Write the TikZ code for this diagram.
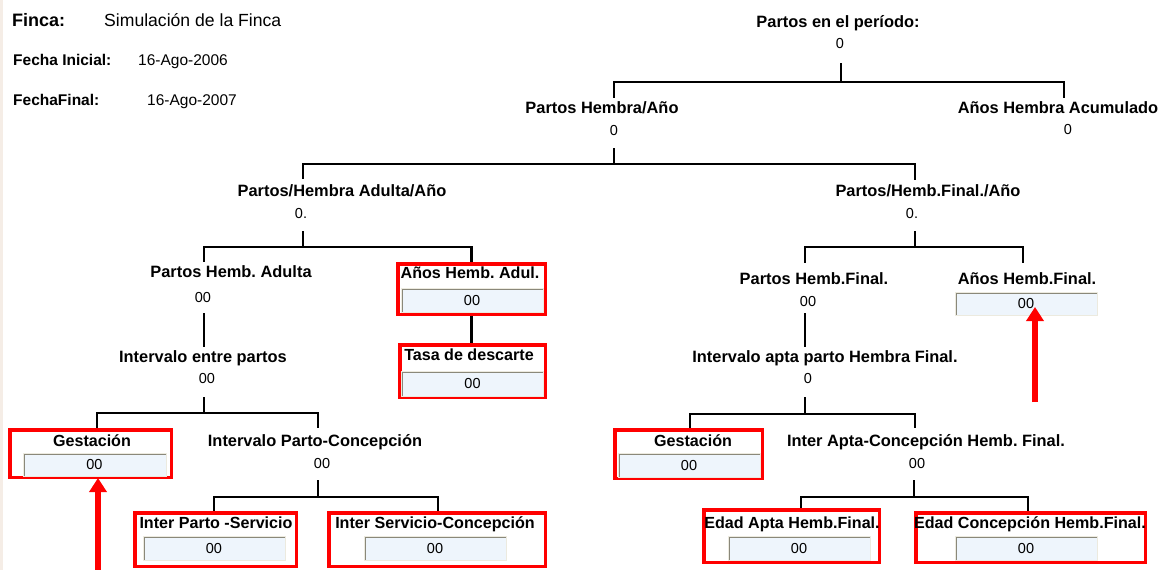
\documentclass[tikz,border=0pt]{standalone}
\usepackage{fontspec}
\setmainfont{Liberation Sans}
\usetikzlibrary{arrows.meta}
\frenchspacing

\definecolor{frame}{HTML}{FF0000}
\definecolor{fieldbg}{HTML}{EEF5FC}
\definecolor{fieldedge}{HTML}{8A887A}
\definecolor{fieldlt}{HTML}{ECEADF}
\definecolor{strip}{HTML}{F5EDE6}

\tikzset{
  lbl/.style={font=\fontsize{16.4}{19}\selectfont\bfseries, inner sep=0pt, text height=11.5pt, text depth=0pt},
  boxlbl/.style={lbl, font=\fontsize{16.1}{19}\selectfont\bfseries},
  val/.style={font=\fontsize{14.5}{17}\selectfont, inner sep=0pt, text height=10.5pt, text depth=0pt},
  link/.style={line width=2.5pt, black},
  redbox/.style={draw=frame, line width=3.5pt, inner sep=0pt},
  field/.style={fill=fieldbg, draw=fieldlt, line width=1pt, minimum width=142pt, minimum height=24pt,
    inner sep=0pt, font=\fontsize{14.5}{17}\selectfont, text height=10.5pt, text depth=0pt,
    path picture={\draw[fieldedge, line width=3pt] (path picture bounding box.south west)
      -- (path picture bounding box.north west) -- (path picture bounding box.north east);}},
  pointer/.style={draw=frame, line width=6pt, -{Triangle[width=17pt,length=14pt]}}
}

\begin{document}
\begin{tikzpicture}[x=1pt,y=-1pt]
    \useasboundingbox (0,0) rectangle (1163,570);
    \fill[white] (0,0) rectangle (1163,570);
    \fill[strip] (0,0) rectangle (3,570);
    % header
    \node[lbl, font=\fontsize{18}{21}\selectfont\bfseries, text height=13pt, anchor=west] (finca) at (12,20) {Finca:};
    \node[val, font=\fontsize{17.6}{20}\selectfont, text height=12pt, anchor=west] (finca-v) at (104,20) {Simulación de la Finca};
    \node[lbl, font=\fontsize{15.5}{18}\selectfont\bfseries, anchor=west] (fini) at (13,60) {Fecha Inicial:};
    \node[val, font=\fontsize{15.5}{18}\selectfont, anchor=west] (fini-v) at (138,60) {16-Ago-2006};
    \node[lbl, font=\fontsize{15.5}{18}\selectfont\bfseries, anchor=west] (ffin) at (13,100) {FechaFinal:};
    \node[val, font=\fontsize{15.5}{18}\selectfont, anchor=west] (ffin-v) at (147,100) {16-Ago-2007};

    % top level
    \node[lbl] (root) at (838,22) {Partos en el período:};
    \node[val] (root-v) at (840,43) {0};
    \node[lbl] (pha) at (602,108) {Partos Hembra/Año};
    \node[val] (pha-v) at (614,130) {0};
    \node[lbl] (ahc) at (1058,108) {Años Hembra Acumulado};
    \node[val] (ahc-v) at (1068,129) {0};
    \coordinate (root-o) at (841,63);
    \coordinate (root-b) at (841,82);
    \coordinate (pha-i) at (614,98);
    \coordinate (ahc-i) at (1064,98);
    \draw[link] (root-o) -- (root-b) -| (pha-i) (root-b) -| (ahc-i);

    % second level
    \node[lbl] (phaa) at (342,191) {Partos/Hembra Adulta/Año};
    \node[val] (phaa-v) at (301,213) {0.};
    \node[lbl] (phf) at (928,191) {Partos/Hemb.Final./Año};
    \node[val] (phf-v) at (912,213) {0.};
    \coordinate (pha-o) at (614,148);
    \coordinate (pha-b) at (614,164);
    \coordinate (phaa-i) at (303,179);
    \coordinate (phf-i) at (915,180);
    \draw[link] (pha-o) -- (pha-b) -| (phaa-i) (pha-b) -| (phf-i);

    % left branch
    \node[lbl] (pfa) at (231,272) {Partos Hemb. Adulta};
    \node[val] (pfa-v) at (203,297) {00};
    \node[redbox, minimum width=147.5pt, minimum height=50.5pt] (ahadul) at (471.5,289) {};
    \node[boxlbl] (ahadul-t) at (470,273) {Años Hemb. Adul.};
    \node[field] (ahadul-f) at (472,300) {00};
    \coordinate (phaa-o) at (303,231);
    \coordinate (phaa-b) at (303,247);
    \coordinate (pfa-i) at (204,262);
    \draw[link] (phaa-o) -- (phaa-b) -| (pfa-i) (phaa-b) -| (ahadul.north);

    \node[lbl] (iep) at (203,357) {Intervalo entre partos};
    \node[val] (iep-v) at (207,378) {00};
    \coordinate (pfa-o) at (204,313);
    \coordinate (iep-i) at (204,347);
    \draw[link] (pfa-o) -- (iep-i);

    \node[redbox, minimum width=145.5pt, minimum height=52.5pt] (tasa) at (472.5,371) {};
    \node[boxlbl] (tasa-t) at (469,355) {Tasa de descarte};
    \node[field, minimum height=25pt] (tasa-f) at (472.5,383.5) {00};
    \draw[link] (ahadul.south) -- (ahadul.south |- tasa.north);

    \node[redbox, minimum width=161.5pt, minimum height=47.5pt] (gestl) at (90.5,453.5) {};
    \node[boxlbl] (gestl-t) at (92,441) {Gestación};
    \node[field, minimum width=143pt, minimum height=23pt] (gestl-f) at (94.5,464.5) {00};
    \node[lbl] (ipc) at (315,441) {Intervalo Parto-Concepción};
    \node[val] (ipc-v) at (322,463) {00};
    \coordinate (iep-o) at (204,397);
    \coordinate (iep-b) at (204,413);
    \coordinate (gestl-i) at (97,428);
    \coordinate (ipc-i) at (318,428);
    \draw[link] (iep-o) -- (iep-b) -| (gestl-i) (iep-b) -| (ipc-i);

    \node[redbox, minimum width=161.5pt, minimum height=53.5pt] (ips) at (215.5,539.5) {};
    \node[boxlbl] (ips-t) at (216,523) {Inter Parto -Servicio};
    \node[field] (ips-f) at (214,548) {00};
    \node[redbox, minimum width=216.5pt, minimum height=53.5pt] (isc) at (437,539.5) {};
    \node[boxlbl] (isc-t) at (435,523) {Inter Servicio-Concepción};
    \node[field] (isc-f) at (435,548) {00};
    \coordinate (ipc-o) at (318,480);
    \coordinate (ipc-b) at (318,497);
    \coordinate (ips-i) at (214,511);
    \coordinate (isc-i) at (438,511);
    \draw[link] (ipc-o) -- (ipc-b) -| (ips-i) (ipc-b) -| (isc-i);

    % right branch
    \node[lbl] (pfhf) at (814,279) {Partos Hemb.Final.};
    \node[val] (pfhf-v) at (808,301) {00};
    \node[lbl] (ahf) at (1027,279) {Años Hemb.Final.};
    \node[field, minimum height=23pt] (ahf-f) at (1026,303.5) {00};
    \coordinate (phf-o) at (915,231);
    \coordinate (phf-b) at (915,247);
    \coordinate (pfhf-i) at (805,263);
    \coordinate (ahf-i) at (1023,263);
    \draw[link] (phf-o) -- (phf-b) -| (pfhf-i) (phf-b) -| (ahf-i);

    \node[lbl] (iaph) at (825,357) {Intervalo apta parto Hembra Final.};
    \node[val] (iaph-v) at (808,378) {0};
    \coordinate (pfhf-o) at (805,313);
    \coordinate (iaph-i) at (805,347);
    \draw[link] (pfhf-o) -- (iaph-i);

    \node[redbox, minimum width=147.5pt, minimum height=48.5pt] (gestr) at (688.5,454) {};
    \node[boxlbl] (gestr-t) at (693,441) {Gestación};
    \node[field] (gestr-f) at (689,465) {00};
    \node[lbl] (iach) at (926,441) {Inter Apta-Concepción Hemb. Final.};
    \node[val] (iach-v) at (917,463) {00};
    \coordinate (iaph-o) at (805,397);
    \coordinate (iaph-b) at (805,414);
    \coordinate (gestr-i) at (690,428);
    \coordinate (iach-i) at (915,428);
    \draw[link] (iaph-o) -- (iaph-b) -| (gestr-i) (iaph-b) -| (iach-i);

    \node[redbox, minimum width=175.5pt, minimum height=52.5pt] (eah) at (791.5,536) {};
    \node[boxlbl] (eah-t) at (792,523) {Edad Apta Hemb.Final.};
    \node[field] (eah-f) at (799,548) {00};
    \node[redbox, minimum width=229.5pt, minimum height=49.5pt] (ech) at (1030.5,537.5) {};
    \node[boxlbl] (ech-t) at (1030,523) {Edad Concepción Hemb.Final.};
    \node[field] (ech-f) at (1026,548) {00};
    \coordinate (iach-o) at (914,480);
    \coordinate (iach-b) at (914,497);
    \coordinate (eah-i) at (801,508);
    \coordinate (ech-i) at (1028,511);
    \draw[link] (iach-o) -- (iach-b) -| (eah-i) (iach-b) -| (ech-i);

    % red pointers
    \coordinate (arr-l) at (98,572);
    \coordinate (arr-l-tip) at (98,478);
    \draw[pointer] (arr-l) -- (arr-l-tip);
    \coordinate (arr-r) at (1035,402);
    \coordinate (arr-r-tip) at (1035,307);
    \draw[pointer] (arr-r) -- (arr-r-tip);
\end{tikzpicture}
\end{document}
